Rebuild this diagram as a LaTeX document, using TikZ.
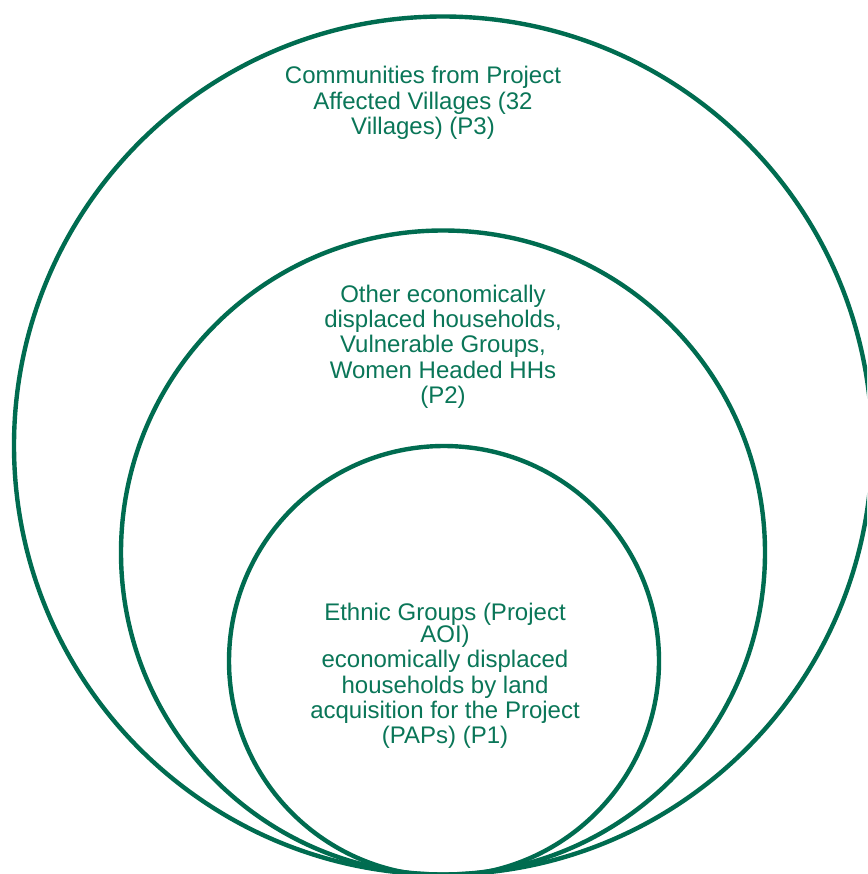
\documentclass[tikz,border=0pt]{standalone}
\usepackage{fontspec}
\setmainfont{Liberation Sans}
\definecolor{ringgreen}{RGB}{0,108,80}
\definecolor{textgreen}{RGB}{10,118,88}
\begin{document}
\begin{tikzpicture}[x=1pt,y=-1pt,
  ring/.style={draw=ringgreen, line width=4.4pt},
  label/.style={text=textgreen, align=center, inner sep=0pt,
    font=\fontsize{24pt}{25.3pt}\selectfont}]
\useasboundingbox (0,0) rectangle (867,874);
\clip (0,0) rectangle (867,874);
\fill[white] (0,0) rectangle (867,874);
\coordinate (cOuter) at (443,445.5);
\coordinate (cMid) at (443,552.5);
\coordinate (cInner) at (444,661);
\draw[ring] (cOuter) circle (429);
\draw[ring] (cMid) circle (322);
\draw[ring] (cInner) circle (215);
\node[label] (p3) at (423,103) {Communities from Project\\Affected Villages (32\\Villages) (P3)};
\node[label] (p2) at (443,346.5) {Other economically\\displaced households,\\Vulnerable Groups,\\Women Headed HHs\\(P2)};
\node[label] (p1) at (445,676) {Ethnic Groups (Project\\[-3.5pt]AOI)\\economically displaced\\households by land\\acquisition for the Project\\(PAPs) (P1)};
\end{tikzpicture}
\end{document}
